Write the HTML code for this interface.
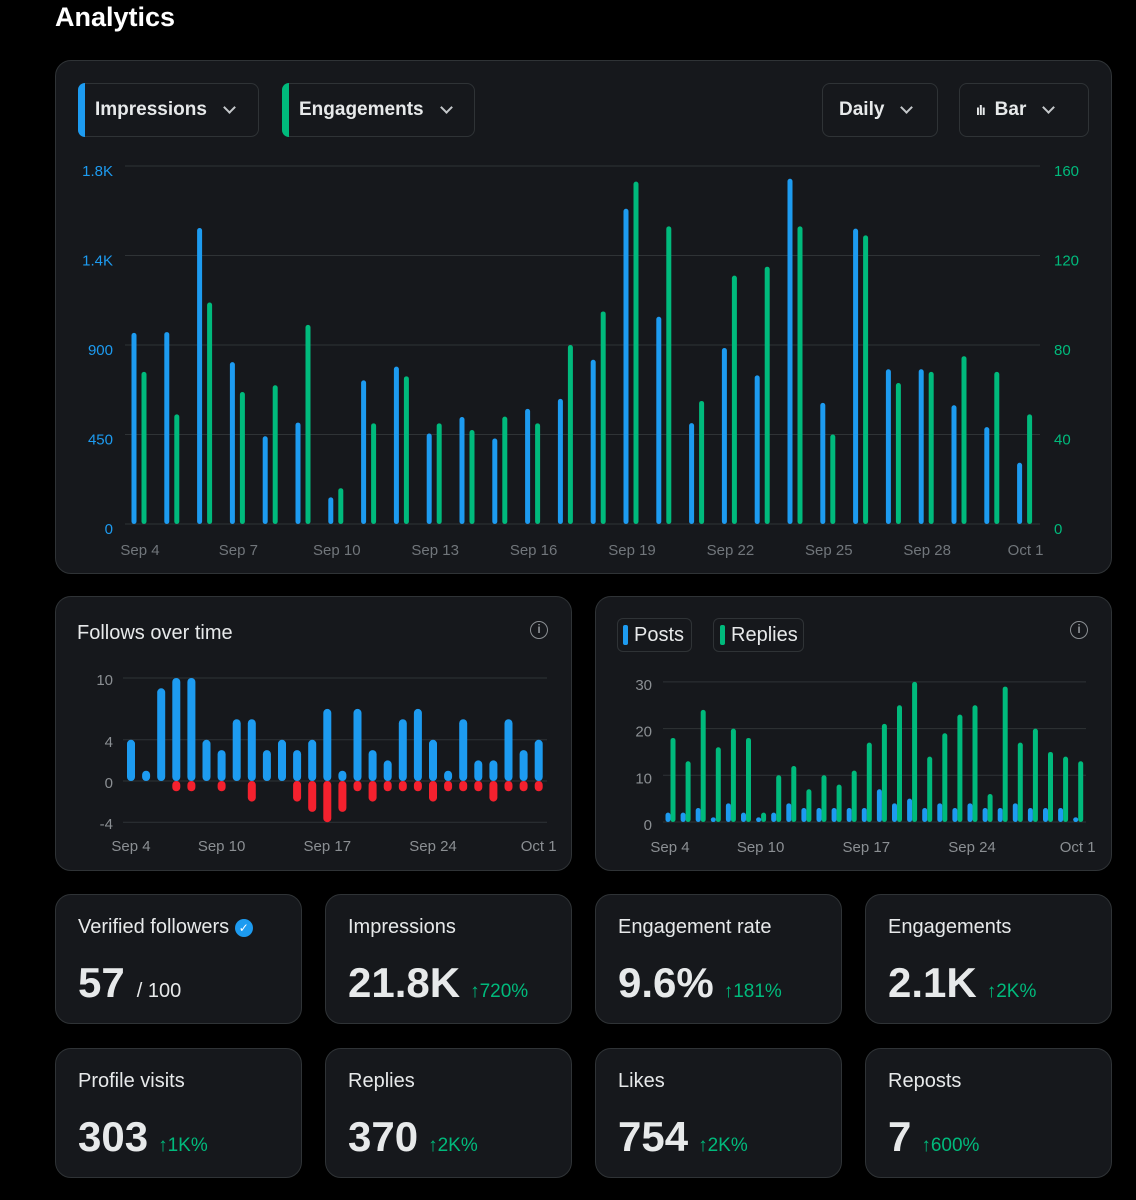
<!DOCTYPE html>
<html><head><meta charset="utf-8">
<style>
*{box-sizing:border-box;margin:0;padding:0}
body{width:1136px;height:1200px;background:#000;position:relative;overflow:hidden;font-family:"Liberation Sans",Arial,sans-serif;color:#e7e9ea}
.abs{position:absolute}
.card{position:absolute;background:#16181c;border:1px solid #2f3336;border-radius:16px}
.btn{position:absolute;top:83px;height:54px;border:1px solid #2f3336;border-radius:8px;background:#16181c;font-weight:bold;font-size:19px;color:#e7e9ea;display:flex;align-items:center;padding-left:16px}
.acc{position:absolute;left:-1px;top:-1px;bottom:-1px;width:7px;border-radius:8px 0 0 8px}
.chev{display:inline-block;width:9px;height:9px;border-right:2px solid #c4c7ca;border-bottom:2px solid #c4c7ca;transform:rotate(45deg);margin-left:18px;margin-top:-6px}
.ctitle{position:absolute;font-size:20px;color:#e7e9ea}
.stitle{position:absolute;left:22px;top:21px;font-size:20px;color:#e7e9ea}
.sval{position:absolute;left:22px;top:64px;font-size:42px;font-weight:bold;color:#e7e9ea;white-space:nowrap}
.chg{font-size:19px;font-weight:normal;color:#00ba7c;margin-left:10px}
.info{position:absolute;width:18px;height:18px;border:1.5px solid #8b8f93;border-radius:50%;font-size:12px;color:#8b8f93;text-align:center;line-height:15px;font-weight:bold}
svg text{font-family:"Liberation Sans",Arial,sans-serif}
</style></head><body>
<div class="abs" style="left:55px;top:2px;font-size:27px;font-weight:bold;color:#fff">Analytics</div>

<div class="card" style="left:55px;top:60px;width:1057px;height:514px"></div>
<div class="btn" style="left:78px;width:181px"><span class="acc" style="background:#1d9bf0"></span>Impressions<span class="chev"></span></div>
<div class="btn" style="left:282px;width:193px"><span class="acc" style="background:#00ba7c"></span>Engagements<span class="chev"></span></div>
<div class="btn" style="left:822px;width:116px">Daily<span class="chev"></span></div>
<div class="btn" style="left:959px;width:130px"><span style="font-size:14px;margin-right:10px;letter-spacing:-1px">ılı</span>Bar<span class="chev"></span></div>

<div class="card" style="left:55px;top:596px;width:517px;height:275px"></div>
<div class="ctitle" style="left:77px;top:622px">Follows over time</div>
<div class="info" style="left:530px;top:621px">i</div>

<div class="card" style="left:595px;top:596px;width:517px;height:275px"></div>
<div class="abs" style="left:617px;top:618px;width:75px;height:34px;border:1px solid #2f3336;border-radius:6px;font-size:20px;line-height:32px;padding-left:16px"><span class="abs" style="left:5px;top:6px;width:5px;height:20px;background:#1d9bf0;border-radius:2px"></span>Posts</div>
<div class="abs" style="left:713px;top:618px;width:91px;height:34px;border:1px solid #2f3336;border-radius:6px;font-size:20px;line-height:32px;padding-left:17px"><span class="abs" style="left:6px;top:6px;width:5px;height:20px;background:#00ba7c;border-radius:2px"></span>Replies</div>
<div class="info" style="left:1070px;top:621px">i</div>

<svg class="abs" id="charts" style="left:0;top:0" width="1136" height="1200"></svg>

<div class="card" style="left:55px;top:894px;width:247px;height:130px"><div class="stitle">Verified followers <span style="display:inline-block;width:18px;height:18px;border-radius:50%;background:#1d9bf0;color:#fff;font-size:12px;text-align:center;line-height:18px;vertical-align:1px">✓</span></div><div class="sval">57<span style="font-size:20px;font-weight:normal;margin-left:12px">/ 100</span></div></div>
<div class="card" style="left:325px;top:894px;width:247px;height:130px"><div class="stitle">Impressions</div><div class="sval">21.8K<span class="chg">↑720%</span></div></div>
<div class="card" style="left:595px;top:894px;width:247px;height:130px"><div class="stitle">Engagement rate</div><div class="sval">9.6%<span class="chg">↑181%</span></div></div>
<div class="card" style="left:865px;top:894px;width:247px;height:130px"><div class="stitle">Engagements</div><div class="sval">2.1K<span class="chg">↑2K%</span></div></div>
<div class="card" style="left:55px;top:1048px;width:247px;height:130px"><div class="stitle">Profile visits</div><div class="sval">303<span class="chg">↑1K%</span></div></div>
<div class="card" style="left:325px;top:1048px;width:247px;height:130px"><div class="stitle">Replies</div><div class="sval">370<span class="chg">↑2K%</span></div></div>
<div class="card" style="left:595px;top:1048px;width:247px;height:130px"><div class="stitle">Likes</div><div class="sval">754<span class="chg">↑2K%</span></div></div>
<div class="card" style="left:865px;top:1048px;width:247px;height:130px"><div class="stitle">Reposts</div><div class="sval">7<span class="chg">↑600%</span></div></div>

<script>
const days = ["Sep 4","Sep 5","Sep 6","Sep 7","Sep 8","Sep 9","Sep 10","Sep 11","Sep 12","Sep 13","Sep 14","Sep 15","Sep 16","Sep 17","Sep 18","Sep 19","Sep 20","Sep 21","Sep 22","Sep 23","Sep 24","Sep 25","Sep 26","Sep 27","Sep 28","Sep 29","Sep 30","Oct 1"];
const impressions = [961,965,1488,814,441,510,134,722,791,455,538,430,579,629,826,1585,1042,507,885,747,1736,609,1485,778,778,597,487,308];
const engagements = [68,49,99,59,62,89,16,45,66,45,42,48,45,80,95,153,133,55,111,115,133,40,129,63,68,75,68,49];
const impTicks = [0,450,900,1350,1800];
const impTickLabels = ["0","450","900","1.4K","1.8K"];
const engTicks = [0,40,80,120,160];
const followGains = [4,1,9,10,10,4,3,6,6,3,4,3,4,7,1,7,3,2,6,7,4,1,6,2,2,6,3,4];
const followLosses = [0,0,0,-1,-1,0,-1,0,-2,0,0,-2,-3,-4,-3,-1,-2,-1,-1,-1,-2,-1,-1,-1,-2,-1,-1,-1];
const followTicks = [10,4,0,-4];
const posts = [2,2,3,1,4,2,1,2,4,3,3,3,3,3,7,4,5,3,4,3,4,3,3,4,3,3,3,1];
const replies = [18,13,24,16,20,18,2,10,12,7,10,8,11,17,21,25,30,14,19,23,25,6,29,17,20,15,14,13];
const postTicks = [0,10,20,30];
const follXLabels = [0,6,13,20,27];

const svg = document.getElementById('charts');
const NS = "http://www.w3.org/2000/svg";
function mk(tag, attrs, name){
  const e = document.createElementNS(NS, tag);
  for (const k in attrs) e.setAttribute(k, attrs[k]);
  
  
  svg.appendChild(e); return e;
}
function txt(x,y,s,fill,anchor,size,name){
  const t = mk('text',{x:x,y:y,fill:fill,'text-anchor':anchor,'font-size':size},name);
  t.textContent = s; return t;
}
function bar(x,y0,y1,w,fill,name){
  const top=Math.min(y0,y1), h=Math.abs(y1-y0);
  if(h<=0) return;
  mk('rect',{x:x-w/2,y:top,width:w,height:h,rx:Math.min(w/2,h/2),fill:fill},name);
}

// main chart
const mx = i => 134 + i*32.8;
const myL = v => 524 - v/1800*358;
const myR = v => 524 - v/160*358;
impTicks.forEach((v,i)=>{
  mk('line',{x1:125,x2:1040,y1:myL(v),y2:myL(v),stroke:'#2f3336','stroke-width':1},'main-gridline');
  txt(113,myL(v)+10,impTickLabels[i],'#1d9bf0','end',15,'left-axis-tick');
});
engTicks.forEach(v=>{ txt(1054,myR(v)+10,String(v),'#00ba7c','start',15,'right-axis-tick'); });
impressions.forEach((v,i)=>{ bar(mx(i),myL(0),myL(v),5,'#1d9bf0','impressions-bar'); });
engagements.forEach((v,i)=>{ bar(mx(i)+10,myR(0),myR(v),5,'#00ba7c','engagements-bar'); });
for(let i=0;i<days.length;i+=3){ txt(mx(i)+6,555,days[i],'#71767b','middle',15,'main-x-tick'); }

// follows chart
const fx = i => 131 + i*15.1;
const fy = v => 781 - v*10.3;
followTicks.forEach(v=>{
  mk('line',{x1:123,x2:547,y1:fy(v),y2:fy(v),stroke:'#2f3336','stroke-width':1},'follows-gridline');
  txt(113,fy(v)+7,String(v),'#8b8f93','end',15,'follows-y-tick');
});
followGains.forEach((v,i)=>{ bar(fx(i),fy(0),fy(v),8,'#1d9bf0','follow-gain-bar'); });
followLosses.forEach((v,i)=>{ bar(fx(i),fy(0),fy(v),8,'#f4212e','follow-loss-bar'); });
follXLabels.forEach(i=>{ txt(fx(i),851,days[i],'#8b8f93','middle',15,'follows-x-tick'); });

// posts/replies chart
const px = i => 668 + i*15.1;
const py = v => 822 - v*4.67;
postTicks.forEach(v=>{
  mk('line',{x1:663,x2:1086,y1:py(v),y2:py(v),stroke:'#2f3336','stroke-width':1},'posts-gridline');
  txt(652,py(v)+8,String(v),'#8b8f93','end',15,'posts-y-tick');
});
posts.forEach((v,i)=>{ bar(px(i),py(0),py(v),5,'#1d9bf0','posts-bar'); });
replies.forEach((v,i)=>{ bar(px(i)+5,py(0),py(v),5,'#00ba7c','replies-bar'); });
follXLabels.forEach(i=>{ txt(px(i)+2,852,days[i],'#8b8f93','middle',15,'posts-x-tick'); });
</script>
</body></html>
